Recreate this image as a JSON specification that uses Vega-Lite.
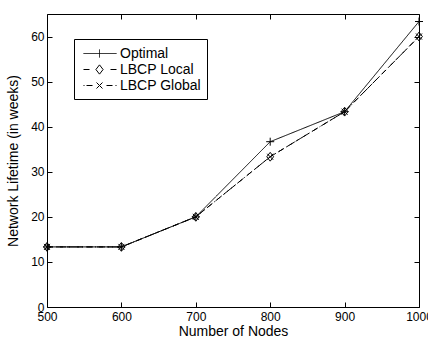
{
  "$schema": "https://vega.github.io/schema/vega-lite/v6.json",
  "width": 372,
  "height": 293,
  "autosize": {"type": "none"},
  "padding": {"left": 47, "top": 14, "right": 9, "bottom": 30},
  "background": "white",
  "config": {
    "font": "Liberation Sans",
    "view": {"stroke": "black", "strokeWidth": 1},
    "axis": {
      "grid": false,
      "domain": false,
      "tickColor": "black",
      "tickWidth": 1,
      "tickSize": -5,
      "labelFlush": false,
      "labelColor": "black",
      "labelFont": "Liberation Sans",
      "labelFontSize": 12,
      "titleColor": "black",
      "titleFont": "Liberation Sans",
      "titleFontSize": 14,
      "titleFontWeight": "normal"
    }
  },
  "data": {
    "values": [
      {"nodes": 500, "lifetime": 13.33, "series": "Optimal"},
      {"nodes": 600, "lifetime": 13.33, "series": "Optimal"},
      {"nodes": 700, "lifetime": 20.0, "series": "Optimal"},
      {"nodes": 800, "lifetime": 36.67, "series": "Optimal"},
      {"nodes": 900, "lifetime": 43.33, "series": "Optimal"},
      {"nodes": 1000, "lifetime": 63.33, "series": "Optimal"},
      {"nodes": 500, "lifetime": 13.33, "series": "LBCP Local"},
      {"nodes": 600, "lifetime": 13.33, "series": "LBCP Local"},
      {"nodes": 700, "lifetime": 20.0, "series": "LBCP Local"},
      {"nodes": 800, "lifetime": 33.33, "series": "LBCP Local"},
      {"nodes": 900, "lifetime": 43.33, "series": "LBCP Local"},
      {"nodes": 1000, "lifetime": 60.0, "series": "LBCP Local"},
      {"nodes": 500, "lifetime": 13.33, "series": "LBCP Global"},
      {"nodes": 600, "lifetime": 13.33, "series": "LBCP Global"},
      {"nodes": 700, "lifetime": 20.0, "series": "LBCP Global"},
      {"nodes": 800, "lifetime": 33.33, "series": "LBCP Global"},
      {"nodes": 900, "lifetime": 43.33, "series": "LBCP Global"},
      {"nodes": 1000, "lifetime": 60.0, "series": "LBCP Global"}
    ]
  },
  "resolve": {"axis": {"x": "independent", "y": "independent"}},
  "layer": [
    {
      "mark": {"type": "line", "stroke": "black", "strokeWidth": 1},
      "encoding": {
        "x": {
          "field": "nodes", "type": "quantitative",
          "scale": {"domain": [500, 1000], "nice": false, "zero": false},
          "axis": {"orient": "bottom", "values": [500, 600, 700, 800, 900, 1000], "format": "d", "labelPadding": 9, "title": "Number of Nodes", "titleBaseline": "alphabetic", "titleY": 28}
        },
        "y": {
          "field": "lifetime", "type": "quantitative",
          "scale": {"domain": [0, 65], "nice": false},
          "axis": {"orient": "left", "values": [0, 10, 20, 30, 40, 50, 60], "labelPadding": 8, "title": "Network Lifetime (in weeks)", "titlePadding": 10}
        },
        "strokeDash": {
          "field": "series", "type": "nominal",
          "scale": {"domain": ["Optimal", "LBCP Local", "LBCP Global"], "range": [[1, 0], [6, 4], [6, 3, 1, 3]]},
          "legend": {
            "orient": "none",
            "legendX": 27,
            "legendY": 25,
            "title": null,
            "strokeColor": "black",
            "fillColor": "white",
            "padding": 6,
            "labelFont": "Liberation Sans",
            "labelFontSize": 14,
            "labelColor": "black",
            "symbolSize": 256,
            "labelOffset": 23,
            "rowPadding": 0,
            "symbolStrokeColor": "black",
            "symbolStrokeWidth": 1,
            "symbolFillColor": "transparent",
            "symbolType": {"expr": "datum.value === 'Optimal' ? 'M-0.625,0H3.5M1.375,-0.5V0.5' : datum.value === 'LBCP Local' ? 'M-0.625,0H0.125M2.75,0H3.5M1.375,-0.58L1.825,0M1.825,0L1.375,0.58M1.375,0.58L0.925,0M0.925,0L1.375,-0.58' : 'M-0.625,0H-0.5M-0.25,0H0.5M2.25,0H3M3.375,0H3.5M1.375,0L1,-0.375M1.375,0L1.75,0.375M1.375,0L1,0.375M1.375,0L1.75,-0.375'"}
          }
        }
      }
    },
    {
      "transform": [{"filter": "datum.series === 'Optimal'"}],
      "mark": {"type": "point", "filled": false, "color": "black", "strokeWidth": 1, "size": 64, "opacity": 1, "shape": "M-1,0H1M0,-1V1"},
      "encoding": {
        "x": {
          "field": "nodes", "type": "quantitative",
          "axis": {"orient": "top", "values": [500, 600, 700, 800, 900, 1000], "labels": false, "title": null}
        },
        "y": {
          "field": "lifetime", "type": "quantitative",
          "axis": {"orient": "right", "values": [0, 10, 20, 30, 40, 50, 60], "labels": false, "title": null}
        }
      }
    },
    {
      "transform": [{"filter": "datum.series === 'LBCP Local'"}],
      "mark": {"type": "point", "filled": false, "color": "black", "strokeWidth": 1, "size": 64, "opacity": 1, "shape": "M0,-1.1L0.85,0L0,1.1L-0.85,0Z"},
      "encoding": {
        "x": {"field": "nodes", "type": "quantitative", "axis": null},
        "y": {"field": "lifetime", "type": "quantitative", "axis": null}
      }
    },
    {
      "transform": [{"filter": "datum.series === 'LBCP Global'"}],
      "mark": {"type": "point", "filled": false, "color": "black", "strokeWidth": 1, "size": 64, "opacity": 1, "shape": "M-0.75,-0.75L0.75,0.75M-0.75,0.75L0.75,-0.75"},
      "encoding": {
        "x": {"field": "nodes", "type": "quantitative", "axis": null},
        "y": {"field": "lifetime", "type": "quantitative", "axis": null}
      }
    }
  ]
}
